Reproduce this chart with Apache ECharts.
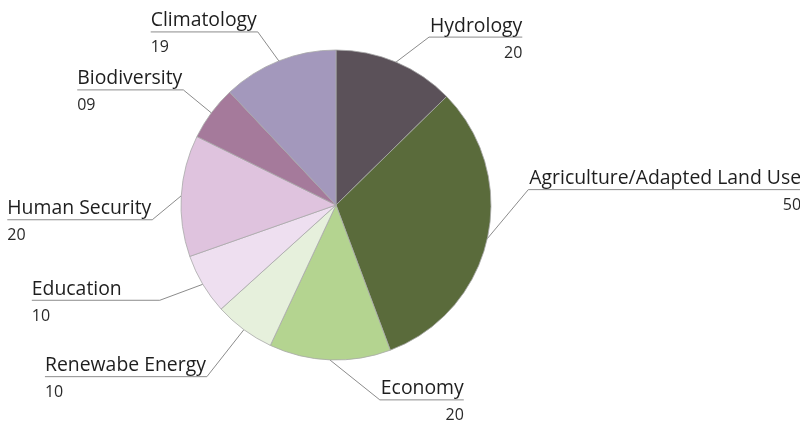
<!DOCTYPE html>
<html>
<head>
<meta charset="utf-8">
<script src="https://cdn.jsdelivr.net/npm/echarts@6/dist/echarts.min.js"></script>
<style>
html,body{margin:0;padding:0;background:#ffffff;}
#chart{width:800px;height:423px;}
</style>
</head>
<body>
<div id="chart"></div>
<script>
// ---- data ----
const categories = ['Hydrology', 'Agriculture/Adapted Land Use', 'Economy', 'Renewabe Energy', 'Education', 'Human Security', 'Biodiversity', 'Climatology'];
const values = [20, 50, 20, 10, 10, 20, 9, 19];

// ---- styles ----
const sliceColors = ['#5b5159', '#5a6b3b', '#b4d490', '#e6f0dc', '#eedff0', '#dfc3de', '#a57a9b', '#a398bc'];
// label leader style: knee offset from slice anchor, side, horizontal run (0 = text width)
const leaderStyle = {
  'Hydrology': { dx: 33, dy: -25, side: 'right', h: 0 },
  'Agriculture/Adapted Land Use': { dx: 41, dy: -49, side: 'right', h: 0 },
  'Economy': { dx: 50, dy: 40, side: 'right', h: 0 },
  'Renewabe Energy': { dx: -37, dy: 47, side: 'left', h: 0 },
  'Education': { dx: -43, dy: 16, side: 'left', h: 128 },
  'Human Security': { dx: -29, dy: 24, side: 'left', h: 0 },
  'Biodiversity': { dx: -28, dy: -23, side: 'left', h: 0 },
  'Climatology': { dx: -21, dy: -29, side: 'left', h: 0 }
};

const FONT = '"Open Sans", "Noto Sans", sans-serif';

const chart = echarts.init(document.getElementById('chart'), null, { renderer: 'canvas' });

const seriesData = categories.map((name, i) => ({
  name: name,
  value: values[i],
  itemStyle: { color: sliceColors[i] }
}));

chart.setOption({
  animation: false,
  backgroundColor: '#ffffff',
  series: [{
    type: 'pie',
    center: [336, 205],
    radius: 155,
    startAngle: 90,
    clockwise: true,
    avoidLabelOverlap: false,
    bleedMargin: 0,
    data: seriesData,
    itemStyle: { borderColor: '#a8a8a8', borderWidth: 0.8 },
    label: {
      show: true,
      position: 'outside',
      formatter: function (p) {
        return '{n|' + p.name + '}\n{v|' + String(p.value).padStart(2, '0') + '}';
      },
      rich: {
        n: { fontFamily: FONT, fontSize: 19.4, color: '#1e1e1e', lineHeight: 32 },
        v: { fontFamily: FONT, fontSize: 16, color: '#2a2a2a', lineHeight: 22 }
      }
    },
    labelLine: {
      show: true,
      length: 4,
      length2: 4,
      smooth: false,
      lineStyle: { color: '#8c8c8c', width: 1 }
    },
    labelLayout: function (params) {
      const s = leaderStyle[categories[params.dataIndex]];
      const p0 = params.labelLinePoints[0];
      const kx = p0[0] + s.dx;
      const ky = p0[1] + s.dy;
      const run = s.h || (params.labelRect.width + 1);
      const outer = s.side === 'right' ? kx + run : kx - run;
      return {
        x: outer,
        y: ky,
        align: s.side === 'right' ? 'right' : 'left',
        verticalAlign: 'middle',
        labelLinePoints: [[p0[0], p0[1]], [kx, ky], [outer, ky]]
      };
    }
  }]
});
</script>
</body>
</html>
